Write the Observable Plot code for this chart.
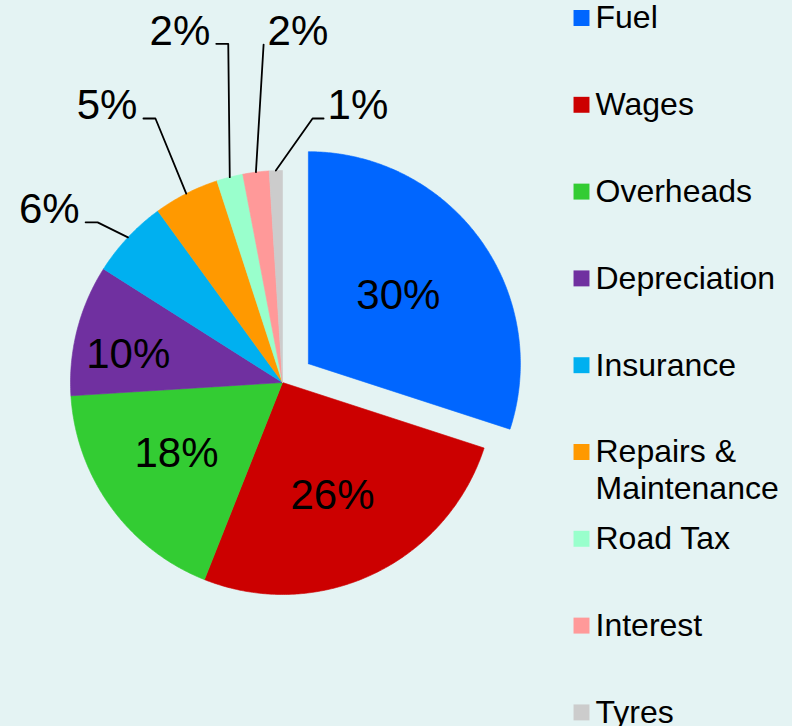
<!DOCTYPE html>
<html>
<head>
<meta charset="utf-8">
<script src="https://cdn.jsdelivr.net/npm/d3@7"></script>
<script src="https://cdn.jsdelivr.net/npm/@observablehq/plot@0.6"></script>
<style>
  html, body { margin: 0; padding: 0; background: #e4f3f3; }
  #chart svg { display: block; }
</style>
</head>
<body>
<div id="chart"></div>
<script>
// ---- Data ----
const categories = ["Fuel", "Wages", "Overheads", "Depreciation", "Insurance", "Repairs & Maintenance", "Road Tax", "Interest", "Tyres"];
const legendLabels = ["Fuel", "Wages", "Overheads", "Depreciation", "Insurance", "Repairs &\nMaintenance", "Road Tax", "Interest", "Tyres"];
const shares = [30, 26, 18, 10, 6, 5, 2, 2, 1];
const percentLabels = ["30%", "26%", "18%", "10%", "6%", "5%", "2%", "2%", "1%"];
const colors = ["#0066ff", "#cc0000", "#33cc33", "#7030a0", "#00b0f0", "#ff9900", "#99ffcc", "#ff9999", "#cccccc"];

// ---- Layout (not data) ----
const W = 792, H = 726;
const cx = 282, cy = 382, R = 212;
const explode = [32, 0, 0, 0, 0, 0, 0, 0, 0];
// inside labels: polar (angle deg, radius) from slice apex; outside labels: elbow (angle deg, radius), tail, side
const labelPlacement = [
  {inside: true, a: 52.1, r: 114},
  {inside: true, a: 155.8, r: 122},
  {inside: true, a: 236.6, r: 127},
  {inside: true, a: 280.7, r: 157},
  {inside: false, ea: 310.9, er: 244.6, tail: 12, side: "left"},
  {inside: false, ea: 334.3, er: 293, tail: 12, side: "left"},
  {inside: false, ea: 350.9, er: 343, tail: 12, side: "left"},
  {inside: false, ea: 356.8, er: 338.5, tail: 0, side: "right"},
  {inside: false, ea: 6.5, er: 265.7, tail: 11, side: "right"}
];

const deg = Math.PI / 180;
const pol = (ox, oy, a, r) => [ox + r * Math.sin(a), oy - r * Math.cos(a)];

const arcs = d3.pie().sort(null).value((d) => d.value).startAngle(0).endAngle(2 * Math.PI)(
  categories.map((c, i) => ({cat: c, value: shares[i], i}))
);

// slice outlines
const slicePts = [];
arcs.forEach((a) => {
  const i = a.data.i;
  const mid = (a.startAngle + a.endAngle) / 2;
  const [ox, oy] = pol(cx, cy, mid, explode[i]);
  slicePts.push({cat: a.data.cat, x: ox, y: oy});
  const n = Math.max(2, Math.ceil((a.endAngle - a.startAngle) / (0.5 * deg)));
  for (let k = 0; k <= n; k++) {
    const t = a.startAngle + (a.endAngle - a.startAngle) * k / n;
    const [x, y] = pol(ox, oy, t, R);
    slicePts.push({cat: a.data.cat, x, y});
  }
  slicePts.push({cat: a.data.cat, x: ox, y: oy});
});

// labels and leader lines
const labelRows = [];
const leaderPts = [];
arcs.forEach((a) => {
  const i = a.data.i;
  const p = labelPlacement[i];
  const mid = (a.startAngle + a.endAngle) / 2;
  const [ox, oy] = pol(cx, cy, mid, explode[i]);
  if (p.inside) {
    const [x, y] = pol(ox, oy, p.a * deg, p.r);
    labelRows.push({text: percentLabels[i], x, y: y + 1.6, anchor: "middle"});
  } else {
    const [sx, sy] = pol(ox, oy, mid, R);
    const [ex, ey] = pol(cx, cy, p.ea * deg, p.er);
    const tx = p.side === "left" ? ex - p.tail : ex + p.tail;
    leaderPts.push({id: i, x: sx, y: sy}, {id: i, x: ex, y: ey}, {id: i, x: tx, y: ey});
    labelRows.push({
      text: percentLabels[i],
      x: p.side === "left" ? tx - 6 : tx + 4,
      y: ey - 12.5,
      anchor: p.side === "left" ? "end" : "start"
    });
  }
});

const legendRows = categories.map((c, i) => ({cat: c, label: legendLabels[i], x: 581, y: 17.5 + i * 86.8}));

const plot = Plot.plot({
  width: W,
  height: H,
  margin: 0,
  style: {background: "#e4f3f3", fontFamily: "'Liberation Sans', Arial, sans-serif", overflow: "hidden"},
  x: {domain: [0, W], range: [0, W], axis: null},
  y: {domain: [0, H], range: [0, H], axis: null},
  color: {type: "ordinal", domain: categories, range: colors},
  marks: [
    Plot.line(slicePts, {x: "x", y: "y", z: "cat", fill: "cat", stroke: "cat", strokeWidth: 0.6, curve: "linear"}),
    Plot.line(leaderPts, {x: "x", y: "y", z: "id", stroke: "#000", strokeWidth: 1.8, curve: "linear"}),
    Plot.text(labelRows.filter((d) => d.anchor === "middle"), {x: "x", y: "y", text: "text", fontSize: 42, fill: "#000", textAnchor: "middle"}),
    Plot.text(labelRows.filter((d) => d.anchor === "end"), {x: "x", y: "y", text: "text", fontSize: 42, fill: "#000", textAnchor: "end"}),
    Plot.text(labelRows.filter((d) => d.anchor === "start"), {x: "x", y: "y", text: "text", fontSize: 42, fill: "#000", textAnchor: "start"}),
    Plot.dot(legendRows, {x: "x", y: "y", fill: "cat", symbol: "square", r: 9, stroke: null}),
    Plot.text(legendRows, {x: 595, y: "y", text: "label", fontSize: 32, fill: "#000", textAnchor: "start", lineAnchor: "top", dy: -15.2, lineHeight: 1.13})
  ]
});
document.getElementById("chart").appendChild(plot);
</script>
</body>
</html>
